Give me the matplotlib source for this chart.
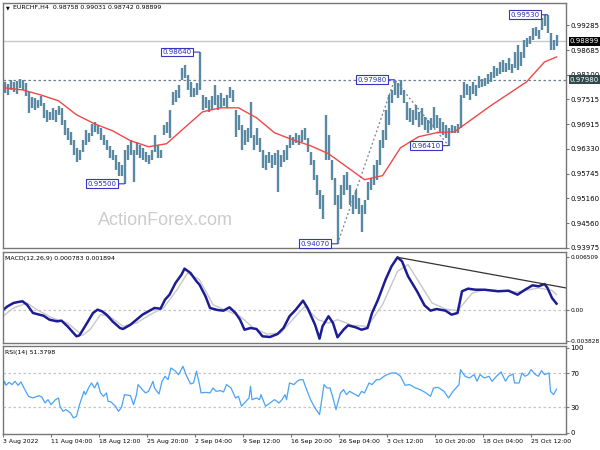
import numpy as np
import matplotlib
matplotlib.use("Agg")
import matplotlib.pyplot as plt
import matplotlib.transforms as mtransforms

plt.rcParams['font.family'] = ['DejaVu Sans']

# EURCHF H4, one bar per 8 hours (two H4 candles), time axis in H4 candles
highs = [0.9793, 0.9788, 0.9798, 0.9793, 0.9795, 0.9800, 0.9798, 0.9791, 0.9769, 0.9757,
         0.9755, 0.9750, 0.9760, 0.9743, 0.9726, 0.9722, 0.9731, 0.9726, 0.9736, 0.9731,
         0.9703, 0.9684, 0.9674, 0.9655, 0.9636, 0.9631, 0.9655, 0.9679, 0.9672, 0.9693,
         0.9698, 0.9691, 0.9684, 0.9667, 0.9655, 0.9641, 0.9631, 0.9619, 0.9603, 0.9596,
         0.9631, 0.9643, 0.9655, 0.9631, 0.9650, 0.9643, 0.9636, 0.9627, 0.9619, 0.9631,
         0.9667, 0.9643, 0.9631, 0.9691, 0.9698, 0.9726, 0.9769, 0.9774, 0.9786, 0.9826,
         0.9833, 0.9810, 0.9793, 0.9779, 0.9791, 0.9864, 0.9762, 0.9757, 0.9750, 0.9760,
         0.9786, 0.9762, 0.9767, 0.9755, 0.9762, 0.9781, 0.9774, 0.9726, 0.9714, 0.9691,
         0.9679, 0.9684, 0.9745, 0.9667, 0.9684, 0.9660, 0.9631, 0.9619, 0.9627, 0.9619,
         0.9624, 0.9631, 0.9619, 0.9631, 0.9643, 0.9667, 0.9662, 0.9672, 0.9667, 0.9679,
         0.9684, 0.9660, 0.9627, 0.9607, 0.9572, 0.9536, 0.9524, 0.9714, 0.9667, 0.9607,
         0.9565, 0.9524, 0.9548, 0.9572, 0.9577, 0.9548, 0.9524, 0.9536, 0.9517, 0.9500,
         0.9512, 0.9555, 0.9565, 0.9596, 0.9607, 0.9655, 0.9679, 0.9726, 0.9762, 0.9774,
         0.9798, 0.9791, 0.9798, 0.9774, 0.9745, 0.9731, 0.9726, 0.9738, 0.9722, 0.9731,
         0.9710, 0.9703, 0.9707, 0.9734, 0.9714, 0.9707, 0.9698, 0.9691, 0.9684, 0.9691,
         0.9688, 0.9693, 0.9762, 0.9793, 0.9788, 0.9783, 0.9793, 0.9786, 0.9807, 0.9800,
         0.9802, 0.9812, 0.9817, 0.9831, 0.9826, 0.9841, 0.9845, 0.9838, 0.9850, 0.9836,
         0.9864, 0.9881, 0.9864, 0.9893, 0.9898, 0.9902, 0.9921, 0.9924, 0.9917, 0.9945,
         0.9953, 0.9953, 0.9909, 0.9893, 0.9905]

lows = [0.9767, 0.9762, 0.9774, 0.9769, 0.9764, 0.9779, 0.9774, 0.9760, 0.9719, 0.9731,
        0.9726, 0.9731, 0.9736, 0.9707, 0.9698, 0.9703, 0.9703, 0.9698, 0.9714, 0.9691,
        0.9667, 0.9655, 0.9643, 0.9619, 0.9603, 0.9607, 0.9627, 0.9643, 0.9650, 0.9665,
        0.9674, 0.9669, 0.9655, 0.9643, 0.9631, 0.9612, 0.9607, 0.9584, 0.9569, 0.9569,
        0.9550, 0.9607, 0.9619, 0.9555, 0.9619, 0.9612, 0.9607, 0.9603, 0.9598, 0.9607,
        0.9627, 0.9612, 0.9612, 0.9667, 0.9672, 0.9660, 0.9738, 0.9745, 0.9755, 0.9798,
        0.9802, 0.9774, 0.9757, 0.9757, 0.9762, 0.9774, 0.9726, 0.9731, 0.9722, 0.9726,
        0.9738, 0.9726, 0.9731, 0.9736, 0.9731, 0.9755, 0.9745, 0.9662, 0.9679, 0.9631,
        0.9643, 0.9650, 0.9660, 0.9631, 0.9643, 0.9627, 0.9588, 0.9584, 0.9600, 0.9588,
        0.9596, 0.9531, 0.9591, 0.9603, 0.9607, 0.9636, 0.9643, 0.9648, 0.9643, 0.9650,
        0.9655, 0.9627, 0.9596, 0.9560, 0.9524, 0.9489, 0.9465, 0.9607, 0.9607, 0.9560,
        0.9500, 0.9407, 0.9489, 0.9524, 0.9536, 0.9500, 0.9477, 0.9489, 0.9477, 0.9436,
        0.9477, 0.9512, 0.9536, 0.9548, 0.9560, 0.9596, 0.9636, 0.9655, 0.9691, 0.9743,
        0.9762, 0.9755, 0.9762, 0.9743, 0.9703, 0.9698, 0.9691, 0.9703, 0.9686, 0.9691,
        0.9679, 0.9672, 0.9679, 0.9684, 0.9684, 0.9674, 0.9667, 0.9660, 0.9641, 0.9672,
        0.9672, 0.9672, 0.9684, 0.9755, 0.9762, 0.9750, 0.9764, 0.9760, 0.9779, 0.9781,
        0.9783, 0.9788, 0.9793, 0.9802, 0.9807, 0.9812, 0.9817, 0.9817, 0.9821, 0.9814,
        0.9826, 0.9821, 0.9831, 0.9850, 0.9876, 0.9883, 0.9893, 0.9902, 0.9895, 0.9917,
        0.9926, 0.9909, 0.9869, 0.9869, 0.9879]

bar_t = np.arange(len(highs)) * 2 + 1

# moving average (red)
ma_t = list(range(1, 362, 12)) + [369]
ma = [0.97787, 0.97739, 0.97620, 0.97478, 0.97145, 0.96931, 0.96764, 0.96527, 0.96384, 0.96455,
      0.96836, 0.97216, 0.97311, 0.97311, 0.97074, 0.96717, 0.96550, 0.96408, 0.96217, 0.95908,
      0.95599, 0.95694, 0.96360, 0.96622, 0.96717, 0.96741, 0.97050, 0.97359, 0.97644, 0.97930,
      0.98405, 0.98524]

# swing labels
swing_t = [131, 81, 223, 261, 297, 363]
swing_p = [0.98640, 0.95500, 0.94070, 0.97980, 0.96410, 0.99530]
zigzag_t = [223, 261, 297]
zigzag_p = [0.94070, 0.97980, 0.96410]
last_price = 0.98899
level = 0.97980
price_ticks = [0.99285, 0.98685, 0.98100, 0.97515, 0.96915, 0.96330, 0.95745, 0.95160, 0.94560, 0.93975]

# MACD(12,26,9)
macd_t = [0, 3, 7, 10, 13, 16, 20, 27, 31, 36, 39, 43, 46, 49, 51, 56, 60, 63, 66, 69,
          73, 78, 80, 85, 89, 93, 97, 101, 105, 108, 111, 115, 119, 121, 125, 129, 131, 135, 138, 143,
          147, 151, 155, 158, 161, 165, 169, 173, 178, 183, 187, 191, 195, 200, 203, 208, 211, 213, 217, 220,
          223, 227, 230, 235, 239, 243, 246, 250, 255, 259, 263, 266, 270, 276, 281, 285, 289, 295, 299, 303,
          306, 310, 315, 321, 330, 337, 343, 348, 353, 357, 361, 363, 366, 369]
macd = [0.00000, 0.00045, 0.00086, 0.00098, 0.00107, 0.00065, -0.00037, -0.00070, -0.00119, -0.00139,
        -0.00131, -0.00200, -0.00262, -0.00323, -0.00311, -0.00160, -0.00037, 0.00004, -0.00016, -0.00057,
        -0.00139, -0.00221, -0.00233, -0.00180, -0.00119, -0.00057, -0.00016, 0.00025, 0.00016, 0.00127,
        0.00188, 0.00332, 0.00434, 0.00508, 0.00454, 0.00352, 0.00311, 0.00168, 0.00025, 0.00000,
        -0.00008, 0.00033, -0.00037, -0.00119, -0.00242, -0.00221, -0.00233, -0.00323, -0.00331, -0.00295,
        -0.00220, -0.00077, 0.00000, 0.00115, 0.00025, -0.00180, -0.00352, -0.00200, -0.00077, -0.00160,
        -0.00335, -0.00242, -0.00188, -0.00212, -0.00242, -0.00221, -0.00037, 0.00127, 0.00372, 0.00536,
        0.00647, 0.00598, 0.00414, 0.00230, 0.00057, -0.00008, 0.00012, -0.00008, -0.00057, -0.00037,
        0.00230, 0.00262, 0.00249, 0.00249, 0.00230, 0.00237, 0.00188, 0.00249, 0.00303, 0.00291,
        0.00319, 0.00270, 0.00147, 0.00078]
signal_t = [0, 7, 16, 23, 33, 43, 53, 58, 65, 71, 80, 89, 98, 107, 116, 123, 131, 140, 149, 158,
            167, 176, 185, 193, 201, 210, 217, 223, 233, 243, 253, 263, 270, 277, 286, 295, 303, 313, 321, 343,
            357, 366, 369]
signal = [-0.00077, 0.00025, 0.00086, 0.00000, -0.00098, -0.00160, -0.00311, -0.00242, -0.00057, -0.00077,
          -0.00200, -0.00160, -0.00057, 0.00025, 0.00249, 0.00454, 0.00372, 0.00065, -0.00008, -0.00077,
          -0.00221, -0.00295, -0.00282, -0.00119, 0.00041, -0.00119, -0.00160, -0.00119, -0.00188, -0.00200,
          0.00065, 0.00475, 0.00557, 0.00352, 0.00086, 0.00012, -0.00008, 0.00209, 0.00249, 0.00221,
          0.00270, 0.00240, 0.00189]
trend_t = [263, 375]
trend_v = [0.00647, 0.00272]

# RSI(14)
rsi_t = [0, 1, 2, 4, 6, 8, 10, 12, 14, 17, 20, 24, 26, 28, 30, 32, 35, 37, 38, 40,
         42, 45, 47, 49, 51, 54, 55, 57, 59, 61, 63, 65, 67, 69, 70, 72, 75, 77, 79, 81,
         85, 87, 89, 90, 92, 95, 97, 100, 101, 104, 106, 108, 110, 112, 115, 117, 120, 122, 125, 127,
         129, 131, 132, 135, 138, 140, 142, 145, 147, 149, 152, 155, 157, 159, 161, 164, 165, 166, 169, 171,
         172, 175, 178, 181, 184, 186, 188, 189, 191, 194, 196, 198, 200, 202, 205, 208, 211, 214, 216, 218,
         220, 222, 225, 227, 229, 231, 235, 237, 239, 241, 244, 246, 249, 251, 254, 256, 259, 262, 265, 268,
         271, 275, 278, 281, 285, 287, 290, 294, 297, 300, 304, 305, 308, 311, 314, 316, 318, 321, 324, 326,
         329, 332, 335, 337, 340, 341, 344, 346, 348, 350, 352, 355, 357, 359, 361, 364, 365, 367, 369]
rsi = [53.5, 60.6, 55.9, 59.4, 56.7, 60.6, 55.9, 59.8, 52.7, 42.9, 41.0, 43.7, 41.8, 35.1, 39.0, 33.1, 39.0, 41.0, 31.2, 25.3,
       27.3, 23.3, 17.5, 19.4, 33.1, 48.8, 44.9, 52.7, 58.6, 52.7, 59.4, 46.9, 42.9, 46.9, 37.1, 36.3, 31.2, 25.3, 30.0, 44.9,
       43.7, 33.1, 44.9, 56.7, 52.7, 46.9, 48.8, 60.6, 52.7, 45.7, 60.6, 66.5, 62.5, 76.3, 72.4, 68.4, 78.2, 68.4, 57.5, 58.6,
       72.4, 56.7, 46.9, 47.6, 46.9, 52.7, 48.8, 49.6, 48.0, 56.7, 52.7, 41.0, 42.9, 31.2, 35.1, 41.0, 54.7, 39.0, 41.0, 39.0,
       44.9, 31.2, 35.1, 39.0, 35.1, 39.0, 44.9, 39.0, 58.6, 56.7, 60.6, 62.5, 62.5, 52.7, 39.0, 29.2, 21.4, 56.7, 52.7, 52.7,
       41.0, 27.3, 46.9, 50.8, 44.9, 48.8, 44.9, 42.9, 48.8, 46.9, 58.6, 56.7, 62.5, 62.5, 66.5, 68.4, 70.4, 70.4, 66.5, 55.9,
       56.7, 52.7, 50.8, 48.0, 42.9, 52.7, 53.5, 48.8, 41.0, 48.8, 56.7, 74.3, 66.5, 64.5, 68.4, 60.6, 68.4, 64.5, 66.5, 60.6,
       66.5, 71.6, 60.6, 66.5, 69.2, 58.6, 58.6, 70.4, 66.5, 68.4, 74.3, 68.4, 66.5, 73.1, 68.4, 70.4, 48.8, 44.9, 51.4]

date_t = list(range(0, 353, 32))
date_labels = ["3 Aug 2022", "11 Aug 04:00", "18 Aug 12:00", "25 Aug 20:00", "2 Sep 04:00",
               "9 Sep 12:00", "16 Sep 20:00", "26 Sep 04:00", "3 Oct 12:00", "10 Oct 20:00",
               "18 Oct 04:00", "25 Oct 12:00"]

FS = 5
frame_c = '#777777'

fig = plt.figure(figsize=(6, 4.5), dpi=100)
ax = fig.add_axes([0.005, 1 - 248 / 450, 0.9383, 245 / 450])
ax_m = fig.add_axes([0.005, 1 - 343 / 450, 0.9383, 91 / 450])
ax_r = fig.add_axes([0.005, 1 - 434 / 450, 0.9383, 88 / 450])

for a in (ax, ax_m, ax_r):
    a.set_xlim(0, 375.3)
    for s in a.spines.values():
        s.set_color(frame_c)
        s.set_linewidth(1.0)
    a.yaxis.tick_right()
    a.tick_params(axis='y', direction='out', length=2.0, pad=1.0, labelsize=FS,
                  color=frame_c, labelcolor='black')
    a.tick_params(axis='x', bottom=False, labelbottom=False)

# price panel
ax.set_ylim(0.9397, 0.9981)
ax.axhline(last_price, color='#c8c8c8', lw=1.0, zorder=1)
ax.axhline(level, color='#6f7f8c', lw=0.9, ls=(0, (2, 2)), zorder=1)
ax.plot(zigzag_t, zigzag_p, color='#6f7f8c', lw=0.9, ls=(0, (1.5, 2)), zorder=1)
ax.vlines(bar_t, lows, highs, color='#5a89a3', lw=1.7, zorder=2)
ax.plot(ma_t, ma, color='#f04848', lw=1.0, zorder=3)
ax.set_yticks(price_ticks)
ax.set_yticklabels(['%.5f' % p for p in price_ticks])

for t, p in zip(swing_t, swing_p):
    ax.annotate('%.5f' % p, xy=(t, p), xytext=(-8, 0), textcoords='offset pixels',
                ha='right', va='center', fontsize=FS, color='#2b2bb0', zorder=6,
                bbox=dict(boxstyle='square,pad=0.2', fc='white', ec='#3636c0', lw=0.8),
                arrowprops=dict(arrowstyle='-', color='#3636c0', lw=0.8, shrinkA=0, shrinkB=0))

tr = mtransforms.blended_transform_factory(ax.transAxes, ax.transData)
ax.text(1.007, last_price, '%.5f' % last_price, transform=tr, ha='left', va='center', fontsize=FS,
        color='white', clip_on=False, zorder=10,
        bbox=dict(boxstyle='square,pad=0.2', fc='black', ec='none'))
ax.text(1.007, level, '%.5f' % level, transform=tr, ha='left', va='center', fontsize=FS,
        color='white', clip_on=False, zorder=10,
        bbox=dict(boxstyle='square,pad=0.2', fc='#2f4a4a', ec='none'))

ax.text(0.006, 0.982, '\u25bc', transform=ax.transAxes, fontsize=3.5, va='center', ha='left')
ax.text(0.018, 0.982, 'EURCHF,H4  0.98758 0.99031 0.98742 0.98899', transform=ax.transAxes,
        fontsize=4.5, va='center', ha='left')
ax.text(0.169, 0.112, 'ActionForex.com', transform=ax.transAxes, fontsize=13,
        family='Liberation Sans', color='#cccccc', va='center', ha='left', zorder=0)

# MACD panel
ax_m.set_ylim(-0.00405, 0.00712)
ax_m.axhline(0, color='#c4c4c4', lw=0.9, ls=(0, (2, 2)))
ax_m.plot(signal_t, signal, color='#c8c8c8', lw=1.0)
ax_m.plot(macd_t, macd, color='#1c1c96', lw=1.8)
ax_m.plot(trend_t, trend_v, color='#333333', lw=0.9)
ax_m.set_yticks([0.006509, 0.0, -0.003828])
ax_m.set_yticklabels(['0.006509', '0.00', '-0.003828'])
ax_m.tick_params(axis='y', labelsize=4.2)
ax_m.text(0.004, 0.93, 'MACD(12,26,9) 0.000783 0.001894', transform=ax_m.transAxes,
          fontsize=4.5, va='center', ha='left')

# RSI panel
ax_r.set_ylim(-1.4, 102.1)
for lvl in (70, 30):
    ax_r.axhline(lvl, color='#c4c4c4', lw=0.9, ls=(0, (2, 2)))
ax_r.plot(rsi_t, rsi, color='#4ba3f5', lw=0.9)
ax_r.set_yticks([100, 70, 30, 0])
ax_r.set_yticklabels(['100', '70', '30', '0'])
ax_r.text(0.004, 0.93, 'RSI(14) 51.3798', transform=ax_r.transAxes,
          fontsize=4.5, va='center', ha='left')
ax_r.tick_params(axis='x', bottom=True, labelbottom=True, direction='out', length=2.2,
                 pad=1.5, labelsize=4.4, color=frame_c)
ax_r.set_xticks(date_t)
ax_r.set_xticklabels(date_labels, ha='left')

fig.savefig('out.png', dpi=100, facecolor='white')
